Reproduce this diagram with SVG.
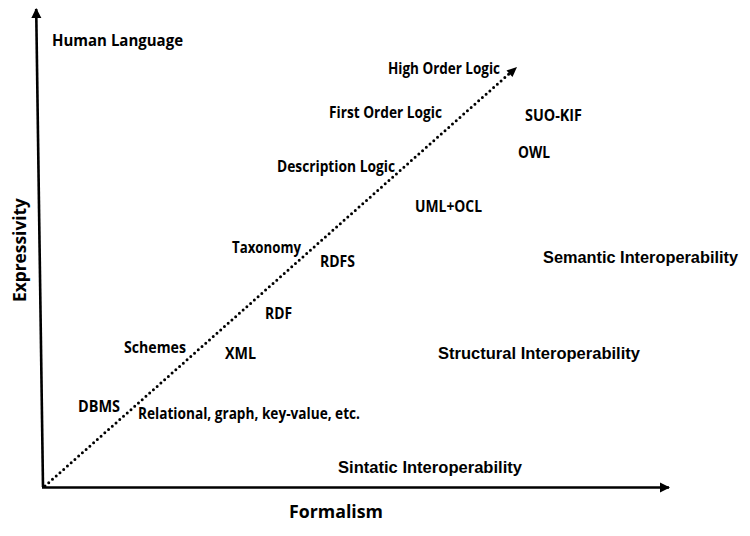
<svg xmlns="http://www.w3.org/2000/svg" width="750" height="536" viewBox="0 0 750 536">
<style>
.c{font-family:"Open Sans","Noto Sans","Liberation Sans",sans-serif;font-weight:bold;font-size:15.5px;fill:#000}
.a{font-family:"Liberation Sans",Arial,sans-serif;font-weight:bold;font-size:16.5px;fill:#000}
.ax{stroke:#000;stroke-width:2.6;fill:none}
.dot{stroke:#000;stroke-width:3;fill:none;stroke-linecap:round;stroke-dasharray:0 5}
</style>
<defs>
<marker id="ah" viewBox="0 0 10 10" refX="9" refY="5" markerWidth="4" markerHeight="4" orient="auto" markerUnits="strokeWidth">
<path d="M0,0 L10,5 L0,10 z" fill="#000"/>
</marker>
</defs>
<rect width="750" height="536" fill="#fff"/>
<g id="connectors">
<line class="ax" x1="43" y1="487" x2="36.2" y2="9" marker-end="url(#ah)"/>
<line class="ax" x1="42" y1="487.5" x2="669" y2="487.5" marker-end="url(#ah)"/>
<line class="dot" x1="45" y1="486" x2="510" y2="73"/>
<path d="M517,67 L506.5,70.5 L512.5,77 z" fill="#000"/>
</g>
<g id="axis-expressivity"><text class="c" style="font-size:17.5px" transform="translate(26,302) rotate(-90)" textLength="104" lengthAdjust="spacingAndGlyphs">Expressivity</text></g>
<g id="axis-formalism"><text class="c" style="font-size:17.5px" x="289" y="518" textLength="94" lengthAdjust="spacingAndGlyphs">Formalism</text></g>
<g id="human-language"><text class="c" x="52" y="46" textLength="131" lengthAdjust="spacingAndGlyphs">Human  Language</text></g>
<g id="high-order-logic"><text class="c" x="388" y="74" textLength="112" lengthAdjust="spacingAndGlyphs">High Order Logic</text></g>
<g id="first-order-logic"><text class="c" x="329" y="118" textLength="113" lengthAdjust="spacingAndGlyphs">First Order Logic</text></g>
<g id="description-logic"><text class="c" x="277" y="172" textLength="118" lengthAdjust="spacingAndGlyphs">Description Logic</text></g>
<g id="suo-kif"><text class="c" x="525" y="121" textLength="57" lengthAdjust="spacingAndGlyphs">SUO-KIF</text></g>
<g id="owl"><text class="c" x="518" y="158" textLength="32" lengthAdjust="spacingAndGlyphs">OWL</text></g>
<g id="uml-ocl"><text class="c" x="415" y="212" textLength="67" lengthAdjust="spacingAndGlyphs">UML+OCL</text></g>
<g id="taxonomy"><text class="c" x="232" y="253" textLength="69" lengthAdjust="spacingAndGlyphs">Taxonomy</text></g>
<g id="rdfs"><text class="c" x="320" y="267" textLength="35" lengthAdjust="spacingAndGlyphs">RDFS</text></g>
<g id="semantic-interoperability"><text class="a" x="543" y="263" textLength="195" lengthAdjust="spacingAndGlyphs">Semantic Interoperability</text></g>
<g id="rdf"><text class="c" x="265" y="319" textLength="27" lengthAdjust="spacingAndGlyphs">RDF</text></g>
<g id="schemes"><text class="c" x="124" y="353" textLength="62" lengthAdjust="spacingAndGlyphs">Schemes</text></g>
<g id="xml"><text class="c" x="225" y="359" textLength="31" lengthAdjust="spacingAndGlyphs">XML</text></g>
<g id="structural-interoperability"><text class="a" x="438" y="359" textLength="202" lengthAdjust="spacingAndGlyphs">Structural Interoperability</text></g>
<g id="dbms"><text class="c" x="78" y="412" textLength="42" lengthAdjust="spacingAndGlyphs">DBMS</text></g>
<g id="relational"><text class="c" x="138" y="419" textLength="222" lengthAdjust="spacingAndGlyphs">Relational, graph, key-value, etc.</text></g>
<g id="sintatic-interoperability"><text class="a" x="338" y="473" textLength="184" lengthAdjust="spacingAndGlyphs">Sintatic Interoperability</text></g>
</svg>
